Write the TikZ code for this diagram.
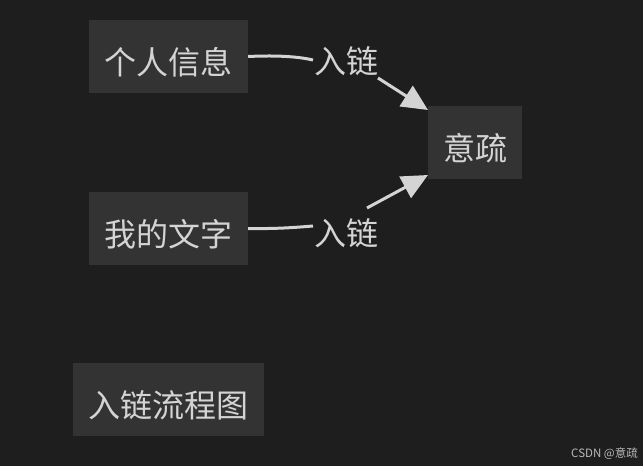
\documentclass[tikz,border=0pt]{standalone}
\usepackage{fontspec}
\setmainfont{Noto Sans CJK SC}
\usetikzlibrary{arrows.meta}
\definecolor{bg}{HTML}{1E1E1E}
\definecolor{boxc}{HTML}{333333}
\definecolor{txt}{HTML}{D4D4D4}
\newcommand{\dn}[1]{\raisebox{-18pt}[0pt][0pt]{#1}}
\begin{document}
\begin{tikzpicture}[x=1pt,y=-1pt,
  box/.style={fill=boxc,text=txt,inner sep=0pt,font=\fontsize{32}{34}\selectfont},
  lab/.style={text=txt,inner sep=0pt,font=\fontsize{32}{34}\selectfont},
  link/.style={draw=txt,line width=3pt},
  tip/.style={-{Triangle[length=26pt,width=24pt]}}]
\fill[bg] (0,0) rectangle (643,466);
\useasboundingbox (0,0) rectangle (643,466);
\node[box,minimum width=159pt,minimum height=73pt] (a) at (168.5,56.5) {\dn{个人信息}};
\node[box,minimum width=159pt,minimum height=73pt] (b) at (168.5,228.5) {\dn{我的文字}};
\node[box,minimum width=94pt,minimum height=73pt] (c) at (475,142.5) {\dn{意疏}};
\node[box,minimum width=191pt,minimum height=73pt] (d) at (168.5,399.5) {\dn{入链流程图}};
\node[lab] (l1) at (346,61.5) {入链};
\node[lab] (l2) at (346,233.5) {入链};
\coordinate (s1) at (378,78);
\coordinate (s2) at (367,208);
\coordinate (t1) at (428,110);
\coordinate (t2) at (428,175);
\draw[link] (a.east) .. controls (280,55) and (300,57) .. (313,60);
\draw[link,tip] (s1) -- (t1);
\draw[link] (b.east) .. controls (280,229) and (300,227) .. (313,226);
\draw[link,tip] (s2) -- (t2);
\node[text=txt!85!bg,inner sep=0pt,anchor=east,font=\fontsize{11.5}{13}\selectfont] (w) at (638,454) {CSDN @意疏};
\end{tikzpicture}
\end{document}
